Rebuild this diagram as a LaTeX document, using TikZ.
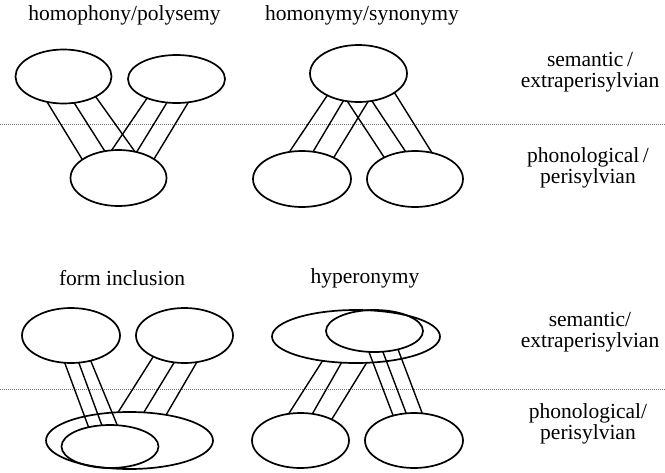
\documentclass[tikz,border=0pt]{standalone}
\usepackage{fontspec}
\setmainfont{Liberation Serif}
\usetikzlibrary{shapes.geometric}
\begin{document}
\begin{tikzpicture}[x=1pt,y=-1pt,
  blob/.style={ellipse,draw,line width=1.7pt,inner sep=0pt,outer sep=0pt},
  axes/.style 2 args={minimum width=#1,minimum height=#2},
  link/.style={line width=1.4pt},
  divider/.style={line width=0.8pt,black!55,dash pattern=on 1pt off 1pt},
  title/.style={font=\fontsize{21.5}{22}\selectfont},
  level/.style={font=\fontsize{21.5}{21}\selectfont,align=center}]
\useasboundingbox (0,0) rectangle (665,472);

% level dividers
\coordinate (d1l) at (0,124);   \coordinate (d1r) at (665,124);
\coordinate (d2l) at (0,389);   \coordinate (d2r) at (665,389);
\draw[divider] (d1l) -- (d1r);
\draw[divider] (d2l) -- (d2r);

% titles
\node[title] (tHP) at (124.5,15) {homophony/polysemy};
\node[title] (tHS) at (362,15) {homonymy/synonymy};
\node[title] (tFI) at (122,278) {form inclusion};
\node[title] (tHY) at (365,278) {hyperonymy};

% level labels
\node[level] (semA) at (590,72.5) {semantic\,/\\extraperisylvian};
\node[level] (phoA) at (588,168) {phonological\,/\\perisylvian};
\node[level] (semB) at (590,332.5) {semantic/\\extraperisylvian};
\node[level] (phoB) at (588,424) {phonological/\\perisylvian};

% homophony / polysemy
\node[blob,axes={96}{54}] (hpA) at (63.5,76.5) {};
\node[blob,axes={97}{48}] (hpB) at (176.5,79) {};
\node[blob,axes={96}{56}] (hpC) at (118.5,178) {};
\draw[link] (hpA.237) -- (hpC.153);
\draw[link] (hpA.292) -- (hpC.117.5);
\draw[link] (hpA.328.5) -- (hpC.58.9);
\draw[link] (hpB.213.3) -- (hpC.104.6);
\draw[link] (hpB.248.4) -- (hpC.55.5);
\draw[link] (hpB.297.5) -- (hpC.28.2);

% homonymy / synonymy
\node[blob,axes={97}{57}] (hsD) at (358.5,73.5) {};
\node[blob,axes={98}{56}] (hsE) at (302,179) {};
\node[blob,axes={96}{56}] (hsF) at (415,179) {};
\draw[link] (hsD.215) -- (hsE.115);
\draw[link] (hsD.241.5) -- (hsE.68.6);
\draw[link] (hsD.289) -- (hsE.34.5);
\draw[link] (hsD.248) -- (hsF.145.5);
\draw[link] (hsD.296) -- (hsF.109.7);
\draw[link] (hsD.332) -- (hsF.57.3);

% form inclusion
\node[blob,axes={98}{55}] (fiG) at (71,335.5) {};
\node[blob,axes={97}{55}] (fiH) at (184.5,335.5) {};
\node[blob,axes={167}{57}] (fiI) at (129.5,440.5) {};
\node[blob,axes={97}{43}] (fiJ) at (110,446.5) {};
\draw[link] (fiG.257.5) -- (fiJ.138.4);
\draw[link] (fiG.286.5) -- (fiJ.111.3);
\draw[link] (fiG.308.4) -- (fiJ.71.1);
\draw[link] (fiH.214.3) -- (fiI.112.7);
\draw[link] (fiH.249.1) -- (fiI.63.9);
\draw[link] (fiH.295.3) -- (fiI.35.7);

% hyperonymy
\node[blob,axes={168}{53}] (hyK) at (356,336.5) {};
\node[blob,axes={97}{42}] (hyL) at (374.5,331) {};
\node[blob,axes={97}{55}] (hyM) at (300.5,440.5) {};
\node[blob,axes={98}{55}] (hyN) at (414,440.5) {};
\draw[link] (hyK.216) -- (hyM.114.3);
\draw[link] (hyK.241.8) -- (hyM.66.5);
\draw[link] (hyK.292.7) -- (hyM.34.3);
\draw[link] (hyL.255.3) -- (hyN.130.8);
\draw[link] (hyL.292.3) -- (hyN.106.2);
\draw[link] (hyL.322.5) -- (hyN.73.2);
\end{tikzpicture}
\end{document}
